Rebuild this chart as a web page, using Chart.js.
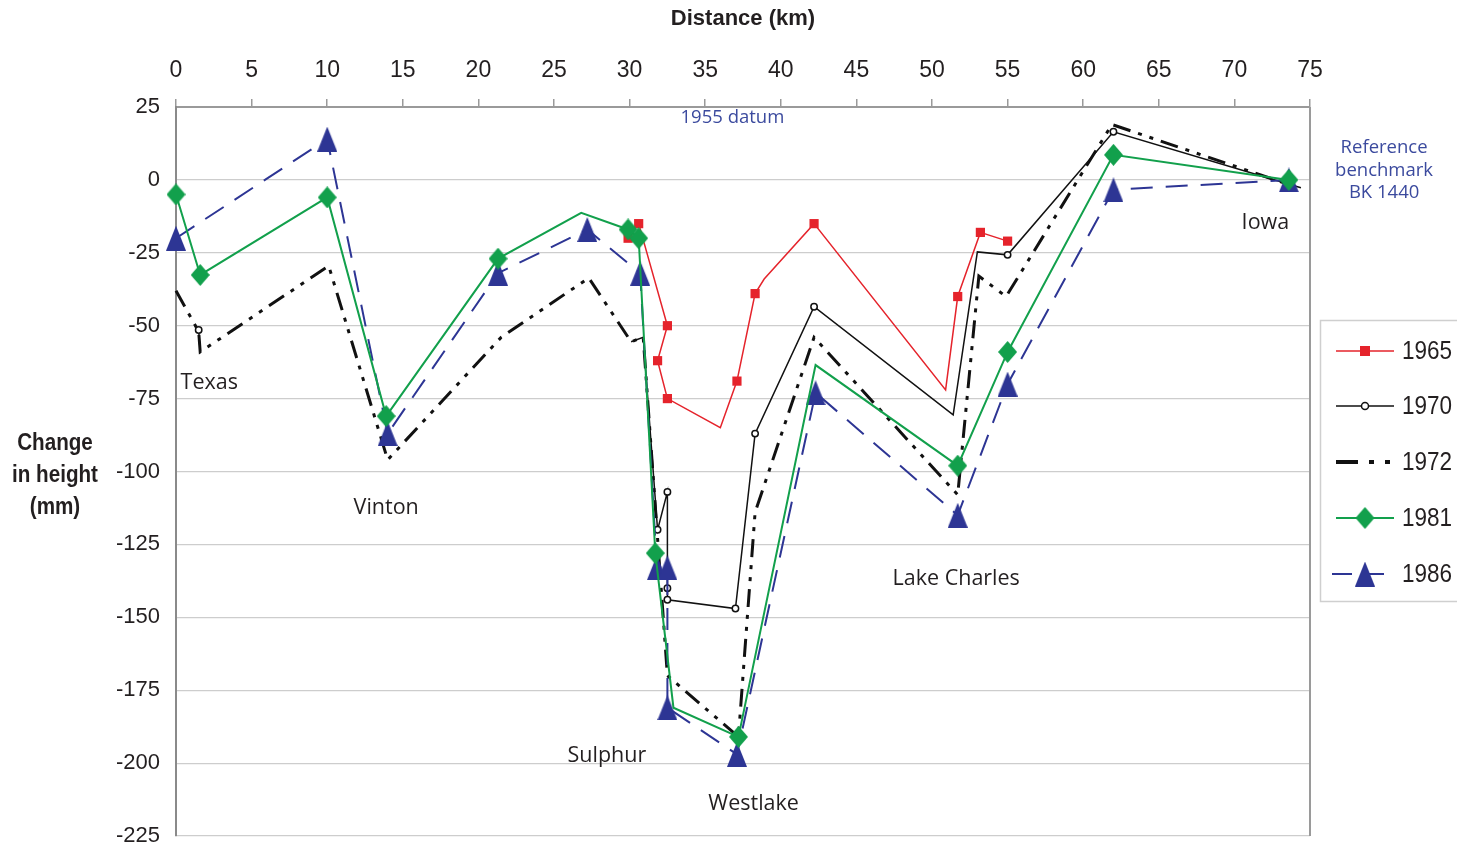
<!DOCTYPE html>
<html><head><meta charset="utf-8">
<script src="https://cdn.jsdelivr.net/npm/chart.js@4.4.1/dist/chart.umd.min.js"></script>
<style>html,body{margin:0;padding:0;background:#fff;overflow:hidden}</style>
</head><body>
<canvas id="c" width="1457" height="854"></canvas>
<script>
// ---------- DATA ----------
const seriesNames = ['1965', '1970', '1972', '1981', '1986'];
const xTickValues = [0, 5, 10, 15, 20, 25, 30, 35, 40, 45, 50, 55, 60, 65, 70, 75];
const yTickValues = [25, 0, -25, -50, -75, -100, -125, -150, -175, -200, -225];

const km1965 = [29.9, 30.6, 32.5, 31.85, 32.5, 36.0, 37.1, 38.3, 38.9, 42.2, 50.9, 51.7, 53.2, 55.0];
const mm1965 = [-20, -15, -50, -62, -75, -85, -69, -39, -34, -15, -72, -40, -18, -21];

const km1970 = [1.5, 1.6, 16, 30.1, 30.9, 31.85, 32.5, 32.5, 32.5, 37.0, 38.3, 42.2, 51.4, 53.0, 55.0, 62.0, 74.4];
const mm1970 = [-51.5, -59, null, -55.5, -54, -120, -107, -140, -144, -147, -87, -43.5, -80.6, -24.7, -25.7, 16.5, -2.7];

const km1972 = [0, 1.5, 1.6, 10.1, 14.0, 21.5, 27.3, 30.1, 30.9, 32.5, 37.2, 38.3, 42.2, 51.7, 53.1, 54.9, 61.9, 74.4];
const mm1972 = [-38, -52, -59, -29.5, -96, -54, -33.6, -55.5, -54, -170, -191, -114, -54, -108, -33, -40, 19, -3];

const km1981 = [0, 1.6, 10.0, 13.9, 21.3, 26.8, 29.9, 30.6, 31.7, 32.9, 37.2, 42.3, 51.7, 55.0, 62.0, 73.6];
const mm1981 = [-5, -32.6, -6, -81, -27, -11.3, -17, -20, -128, -181, -191, -63.5, -98, -59, 8.6, 0];

const km1986 = [0, 10.0, 14.0, 21.3, 27.2, 30.7, 31.8, 32.5, 32.5, 37.1, 42.3, 51.7, 55.0, 62.0, 73.6];
const mm1986 = [-20, 14, -87, -32, -17, -32, -133, -133, -181, -197, -73, -115, -70, -3.4, 0];

const placeNames = ['Texas', 'Vinton', 'Sulphur', 'Westlake', 'Lake Charles', 'Iowa'];
const datumText = '1955 datum';
const benchmarkText = ['Reference', 'benchmark', 'BK 1440'];
const xTitle = 'Distance (km)';
const yTitleLines = ['Change', 'in height', '(mm)'];

// ---------- STYLE ----------
const SANS = "'Liberation Sans', Arial, sans-serif";
const HUMAN = "'Open Sans', 'Noto Sans', sans-serif";
const RED = '#e5232b', BLACK = '#111111', GREEN = '#12a04c', BLUE = '#2d3594', BLUE_TXT = '#3b4a9e';

function pts(xs, ys) { return xs.map((x, i) => ({ x: x, y: ys[i] })); }

function makeTriangle(w, h, fill) {
  const c = document.createElement('canvas'); c.width = w; c.height = h;
  const g = c.getContext('2d'); g.fillStyle = fill;
  g.beginPath(); g.moveTo(w / 2, 0); g.lineTo(w, h); g.lineTo(0, h); g.closePath(); g.fill();
  return c;
}
function makeDiamond(w, h, fill) {
  const c = document.createElement('canvas'); c.width = w; c.height = h;
  const g = c.getContext('2d'); g.fillStyle = fill;
  g.beginPath(); g.moveTo(w / 2, 0); g.lineTo(w, h / 2); g.lineTo(w / 2, h); g.lineTo(0, h / 2); g.closePath(); g.fill();
  return c;
}
const triImg = makeTriangle(20, 25, BLUE);
const diaImg = makeDiamond(19, 22, GREEN);

// indices of vertices drawn without a marker (styling)
const noMarker = { '1965': [5, 8, 10], '1970': [1, 3, 4, 12, 13, 16], '1981': [5, 9, 11] };
function radiusFor(name, r) { return ctx => (noMarker[name] || []).includes(ctx.dataIndex) ? 0 : r; }

const DASH72 = [18, 8, 4, 8, 4, 8];
const DASH86 = [22, 13];

const datasets = [
  { label: seriesNames[3], data: pts(km1981, mm1981), borderColor: GREEN, borderWidth: 2,
    pointStyle: diaImg, pointRadius: radiusFor('1981', 9), order: 0 },
  { label: seriesNames[4], data: pts(km1986, mm1986), borderColor: BLUE, borderWidth: 2, borderDash: DASH86,
    pointStyle: triImg, pointRadius: 10, order: 1 },
  { label: seriesNames[0], data: pts(km1965, mm1965), borderColor: RED, borderWidth: 1.5,
    pointStyle: 'rect', pointRadius: radiusFor('1965', 6.5), pointBackgroundColor: RED, pointBorderWidth: 0, order: 2 },
  { label: seriesNames[1], data: pts(km1970, mm1970), borderColor: BLACK, borderWidth: 1.5,
    pointStyle: 'circle', pointRadius: radiusFor('1970', 3.2), pointBackgroundColor: '#fff', pointBorderColor: BLACK, pointBorderWidth: 1.5, order: 3 },
  { label: seriesNames[2], data: pts(km1972, mm1972), borderColor: BLACK, borderWidth: 3, borderDash: DASH72,
    pointRadius: 0, order: 4 }
];
datasets.forEach(d => { d.fill = false; d.tension = 0; d.clip = false; d.spanGaps = false; });

const legendStyles = {
  '1965': { color: RED, width: 1.6, dash: [], marker: 'rect' },
  '1970': { color: BLACK, width: 1.5, dash: [], marker: 'circle' },
  '1972': { color: BLACK, width: 4, dash: [22, 11, 5, 11, 5, 11], marker: null },
  '1981': { color: GREEN, width: 2, dash: [], marker: 'diamond' },
  '1986': { color: BLUE, width: 2, dash: [20, 12], marker: 'tri' }
};

// draw text horizontally condensed (mimics a narrow typeface)
function narrowText(ctx, text, x, y, sx, align) {
  ctx.save();
  ctx.translate(x, y); ctx.scale(sx, 1);
  ctx.textAlign = align; ctx.fillText(text, 0, 0);
  ctx.restore();
}

const annotPlugin = {
  id: 'annot',
  afterDraw(chart) {
    const ctx = chart.ctx, xs = chart.scales.x, ys = chart.scales.y, a = chart.chartArea;
    const P = (k, m) => [xs.getPixelForValue(k), ys.getPixelForValue(m)];
    ctx.save();
    // right border of plot
    ctx.strokeStyle = '#9a9a9a'; ctx.lineWidth = 2;
    ctx.beginPath(); ctx.moveTo(a.right, a.top); ctx.lineTo(a.right, a.bottom); ctx.stroke();

    // place names
    const placePos = [[2.2, -69.6], [13.9, -112.5], [28.5, -197.5], [38.2, -214], [51.6, -136.8], [72.05, -14.7]];
    ctx.fillStyle = '#231f20'; ctx.font = '21.5px ' + HUMAN; ctx.textAlign = 'center'; ctx.textBaseline = 'middle';
    placeNames.forEach((t, i) => { const p = P(placePos[i][0], placePos[i][1]); ctx.fillText(t, p[0], p[1]); });

    // datum & benchmark
    ctx.fillStyle = BLUE_TXT; ctx.font = '18.5px ' + HUMAN;
    let p = P(36.8, 21.3); ctx.fillText(datumText, p[0], p[1]);
    const bmY = [11, 3.2, -4.4];
    benchmarkText.forEach((t, i) => { const q = P(79.9, bmY[i]); ctx.fillText(t, q[0], q[1]); });

    // y-axis title (horizontal)
    ctx.fillStyle = '#231f20'; ctx.font = 'bold 24px ' + SANS;
    const yt = [443, 475, 507];
    yTitleLines.forEach((t, i) => narrowText(ctx, t, 55, yt[i], 0.86, 'center'));

    // legend
    const lx = a.right + 10, ly = 320;
    ctx.strokeStyle = '#cfcfcf'; ctx.lineWidth = 1.5; ctx.setLineDash([]);
    ctx.strokeRect(lx + 0.5, ly + 0.5, 160, 281);
    const rowY = [351, 406, 462, 518, 574];
    ['1965', '1970', '1972', '1981', '1986'].forEach((name, i) => {
      const s = legendStyles[name], y = rowY[i];
      ctx.strokeStyle = s.color; ctx.lineWidth = s.width; ctx.setLineDash(s.dash);
      ctx.beginPath(); ctx.moveTo(lx + (name === '1986' ? 12 : 16), y); ctx.lineTo(lx + 74, y); ctx.stroke();
      ctx.setLineDash([]);
      const cx = lx + 45;
      if (s.marker === 'rect') { ctx.fillStyle = RED; ctx.fillRect(cx - 5, y - 5, 10, 10); }
      else if (s.marker === 'circle') { ctx.fillStyle = '#fff'; ctx.lineWidth = 1.5; ctx.beginPath(); ctx.arc(cx, y, 3.5, 0, Math.PI * 2); ctx.fill(); ctx.stroke(); }
      else if (s.marker === 'diamond') { ctx.drawImage(diaImg, cx - diaImg.width / 2, y - diaImg.height / 2); }
      else if (s.marker === 'tri') { ctx.drawImage(triImg, cx - triImg.width / 2, y - triImg.height / 2); }
      ctx.fillStyle = '#231f20'; ctx.font = '26px ' + SANS; ctx.textBaseline = 'middle';
      narrowText(ctx, name, lx + 82, y + 1, 0.865, 'left');
    });
    ctx.restore();
  }
};

new Chart(document.getElementById('c'), {
  type: 'line',
  data: { datasets: datasets },
  options: {
    responsive: false, animation: false, events: [],
    layout: { padding: { top: 0, left: 0, right: 147, bottom: 18 } },
    plugins: { legend: { display: false }, tooltip: { enabled: false } },
    scales: {
      x: {
        type: 'linear', position: 'top', min: 0, max: 75,
        afterBuildTicks: s => { s.ticks = xTickValues.map(v => ({ value: v })); },
        afterFit: s => { s.height = 107; s.paddingLeft = 0; s.paddingRight = 0; },
        grid: { drawOnChartArea: false, drawTicks: true, tickLength: 8, color: '#9a9a9a', lineWidth: 1.5 },
        border: { display: true, color: '#9a9a9a', width: 2 },
        ticks: { color: '#231f20', font: { family: SANS, size: 23 }, padding: 15, maxRotation: 0, autoSkip: false },
        title: { display: true, text: xTitle, color: '#231f20', font: { family: SANS, size: 22, weight: 'bold' }, padding: { top: 6, bottom: 0 } }
      },
      y: {
        type: 'linear', min: -225, max: 25,
        afterBuildTicks: s => { s.ticks = yTickValues.map(v => ({ value: v })); },
        afterFit: s => { s.width = 176; s.paddingTop = 0; s.paddingBottom = 0; },
        grid: { color: '#cdcdcd', lineWidth: 1.2, drawTicks: false },
        border: { display: true, color: '#8a8a8a', width: 2 },
        ticks: { color: '#231f20', font: { family: SANS, size: 22 }, padding: 16, autoSkip: false }
      }
    }
  },
  plugins: [annotPlugin]
});
</script>
</body></html>
